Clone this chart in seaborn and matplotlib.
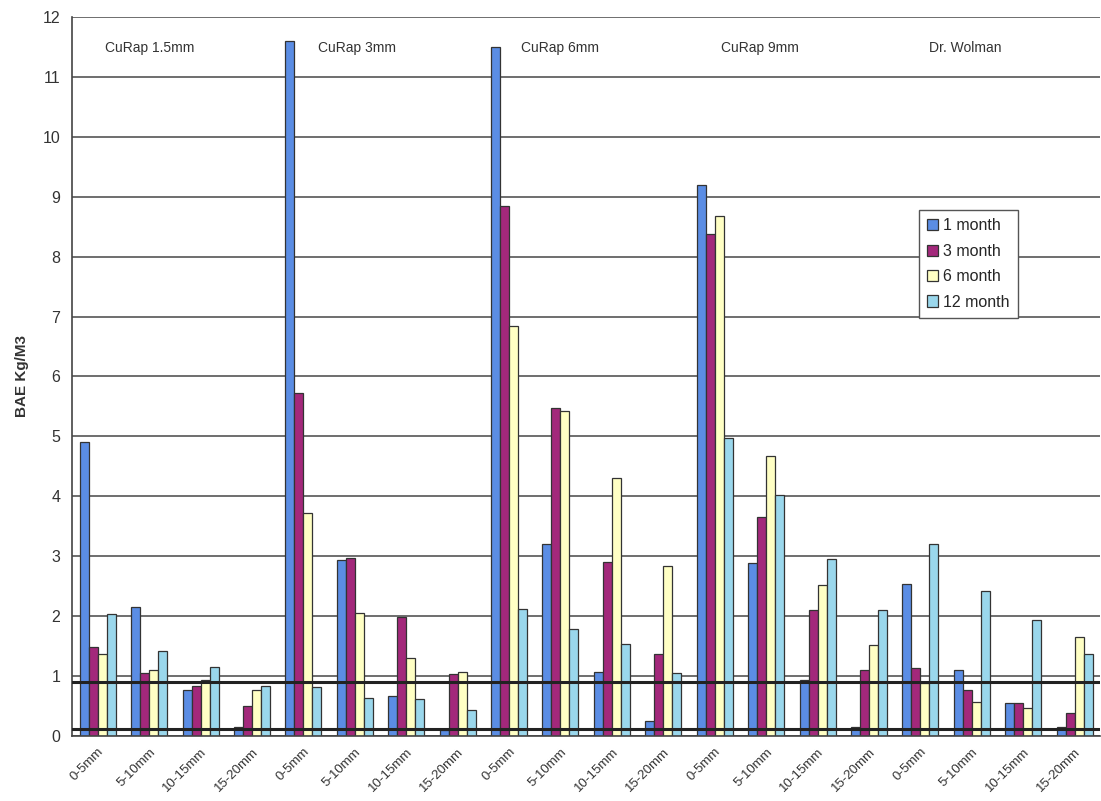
import numpy as np
import matplotlib
matplotlib.use("Agg")
import matplotlib.pyplot as plt
import pandas as pd
import seaborn as sns

groups = ['CuRap 1.5mm', 'CuRap 3mm', 'CuRap 6mm', 'CuRap 9mm', 'Dr. Wolman']
depths = ['0-5mm', '5-10mm', '10-15mm', '15-20mm']
months = ['1 month', '3 month', '6 month', '12 month']

# values per category (group x depth), one list per time point
month_1 = [4.90, 2.15, 0.77, 0.15,
           11.60, 2.93, 0.67, 0.10,
           11.50, 3.20, 1.07, 0.25,
           9.20, 2.88, 0.93, 0.15,
           2.53, 1.10, 0.55, 0.15]
month_3 = [1.48, 1.05, 0.83, 0.50,
           5.73, 2.97, 1.98, 1.03,
           8.85, 5.48, 2.90, 1.37,
           8.37, 3.65, 2.10, 1.10,
           1.13, 0.77, 0.55, 0.38]
month_6 = [1.37, 1.10, 0.93, 0.77,
           3.72, 2.05, 1.30, 1.07,
           6.85, 5.42, 4.30, 2.83,
           8.68, 4.68, 2.52, 1.52,
           0.88, 0.57, 0.47, 1.65]
month_12 = [2.04, 1.42, 1.15, 0.83,
            0.82, 0.63, 0.62, 0.43,
            2.12, 1.78, 1.53, 1.05,
            4.98, 4.02, 2.95, 2.10,
            3.20, 2.42, 1.93, 1.37]

ref_lines = [0.9, 0.12]

categories = [f'{g}|{d}' for g in groups for d in depths]
tick_labels = [d for g in groups for d in depths]

rows = []
for m, vals in zip(months, [month_1, month_3, month_6, month_12]):
    for c, v in zip(categories, vals):
        rows.append({'cat': c, 'month': m, 'value': v})
df = pd.DataFrame(rows)

colors = ['#5b8de4', '#a3287b', '#ffffc4', '#9ad7ec']

sns.set_style('white')
plt.rcParams['font.family'] = ['Liberation Sans', 'DejaVu Sans']

fig = plt.figure(figsize=(11.01, 8.01), dpi=100)
ax = fig.add_axes([0.0654, 0.081, 0.934, 0.898])

sns.barplot(data=df, x='cat', y='value', hue='month', order=categories,
            hue_order=months, palette=colors, width=0.7, edgecolor='#333333',
            linewidth=0.9, saturation=1, ax=ax, legend=True)

ax.set_ylim(0, 12)
ax.set_xlim(-0.5, len(categories) - 0.5)
ax.set_yticks(range(0, 13))
ax.yaxis.grid(True, color='#555555', linewidth=1.2)
ax.set_axisbelow(True)
for y in ref_lines:
    ax.axhline(y, color='#222222', linewidth=2.2, zorder=5)

ax.set_xticks(np.arange(len(categories)))
ax.set_xticklabels(tick_labels, rotation=45, ha='right', rotation_mode='anchor',
                   fontsize=9.5, color='#333333')
ax.set_xticks(np.arange(len(categories) + 1) - 0.5, minor=True)
ax.tick_params(axis='x', which='major', length=0, pad=7)
ax.tick_params(axis='x', which='minor', length=5, color='#444444', width=1)
ax.tick_params(axis='y', length=5, color='#444444', width=1, labelsize=11.5,
               labelcolor='#333333')

for s in ['top', 'right']:
    ax.spines[s].set_visible(False)
for s in ['left', 'bottom']:
    ax.spines[s].set_color('#444444')
    ax.spines[s].set_linewidth(1.2)

ax.set_xlabel('')
ax.set_ylabel('BAE Kg/M3', fontsize=11, fontweight='bold', color='#333333',
              labelpad=10)

label_x = [0.15, 4.28, 8.24, 12.12, 16.16]
for g, x in zip(groups, label_x):
    ax.text(x, 11.48, g, fontsize=10, color='#333333', ha='left', va='center')

ax.legend(loc='upper left', bbox_to_anchor=(0.816, 0.742), fontsize=11.5,
          handlelength=0.7, handleheight=0.7, handletextpad=0.3,
          labelspacing=0.65, fancybox=False, edgecolor='#555555',
          framealpha=1, borderpad=0.5)

plt.savefig('out.png', dpi=100)
